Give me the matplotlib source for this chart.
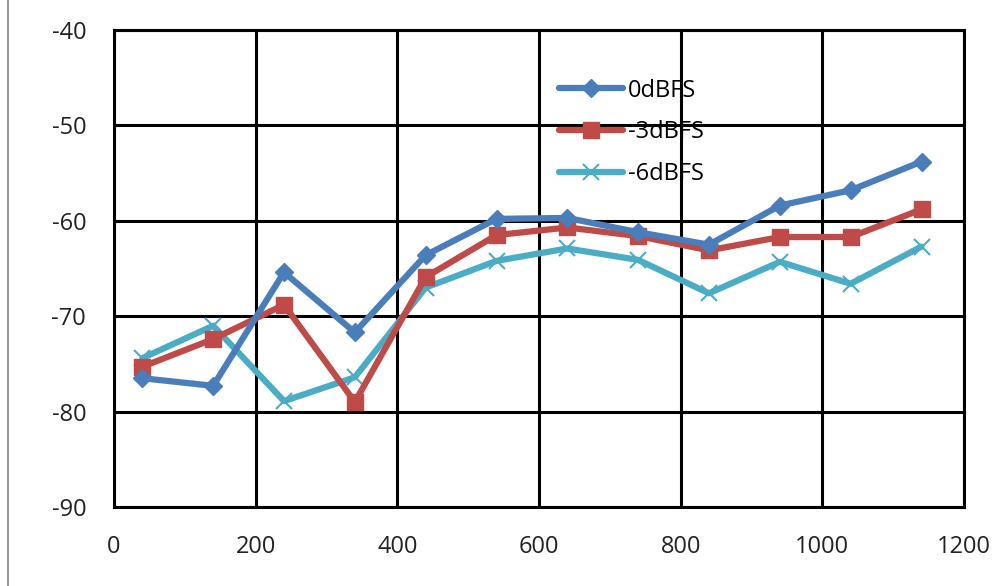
import matplotlib
matplotlib.use("Agg")
import matplotlib.pyplot as plt
from matplotlib.lines import Line2D

# sample positions and levels
freq = [40, 140, 240, 340, 440, 540, 640, 740, 840, 940, 1040, 1140]
level_0db = [-76.5, -77.3, -65.4, -71.7, -63.6, -59.8, -59.7, -61.2, -62.5, -58.4, -56.8, -53.8]
level_3db = [-75.3, -72.4, -68.8, -79.0, -65.9, -61.5, -60.7, -61.6, -63.1, -61.7, -61.7, -58.8]
level_6db = [-74.4, -71.0, -78.9, -76.4, -67.0, -64.2, -62.9, -64.1, -67.6, -64.3, -66.6, -62.7]

series_names = ["0dBFS", "-3dBFS", "-6dBFS"]
x_ticks = [0, 200, 400, 600, 800, 1000, 1200]
y_ticks = [-90, -80, -70, -60, -50, -40]

plt.rcParams["font.family"] = ["Open Sans", "DejaVu Sans"]
plt.rcParams["axes.unicode_minus"] = False


def main():
    fig = plt.figure(figsize=(10.01, 5.86), dpi=100)
    ax = fig.add_axes([114 / 1001, 1 - 507 / 586, 850 / 1001, 477 / 586])

    style = dict(lw=4.5, solid_capstyle="round", solid_joinstyle="round")
    ax.plot(freq, level_0db, color="#4A7EBB", marker="D", ms=9,
            label=series_names[0], zorder=5, **style)
    ax.plot(freq, level_3db, color="#BE4B48", marker="s", ms=11,
            label=series_names[1], zorder=4, **style)
    ax.plot(freq, level_6db, color="#4BACC6", marker="x", ms=11, mew=1.5,
            label=series_names[2], zorder=3, **style)

    ax.set_xlim(0, 1200)
    ax.set_ylim(-90, -40)
    ax.set_xticks(x_ticks)
    ax.set_yticks(y_ticks)
    ax.grid(True, color="black", lw=2.2)
    ax.set_axisbelow(True)
    for s in ax.spines.values():
        s.set_linewidth(2.2)
    ax.tick_params(length=0, labelsize=17, colors="#222222")
    ax.tick_params(axis="y", pad=20)
    ax.tick_params(axis="x", pad=20)

    ax.legend(loc="upper left", bbox_to_anchor=(0.523, 0.898), frameon=False,
              fontsize=17, handlelength=2.75, handletextpad=0.2,
              labelspacing=0.75, borderaxespad=0, borderpad=0)

    # thin grey frame edge at the far left of the image
    fig.add_artist(Line2D([8 / 1001, 8 / 1001], [0, 1], color="#999999", lw=1.5))

    fig.savefig("out.png", dpi=100)
    plt.close(fig)


if __name__ == "__main__":
    main()
